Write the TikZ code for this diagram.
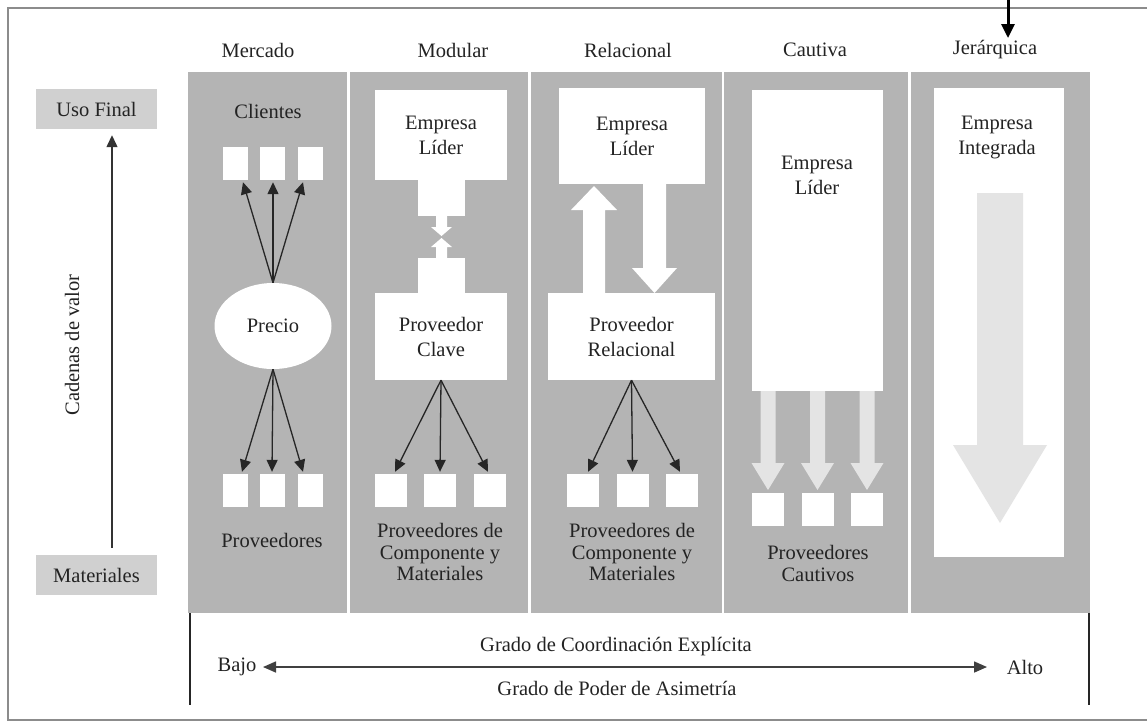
\documentclass[tikz,border=0pt]{standalone}
\usepackage{fontspec}
\setmainfont{Liberation Serif}
\usetikzlibrary{arrows.meta,shapes.geometric,calc}
\definecolor{colgray}{RGB}{180,180,180}
\definecolor{boxgray}{RGB}{208,208,208}
\definecolor{lightarr}{RGB}{228,228,228}
\definecolor{txt}{RGB}{35,35,35}
\newcommand\lblfont{\fontsize{20.5}{25}\selectfont}
\newcommand\lblfontb{\fontsize{20.5}{21.5}\selectfont}
\begin{document}
\begin{tikzpicture}[x=1pt,y=-1pt,
  lbl/.style={text=txt,font=\lblfont,align=center,inner sep=0},
  lblb/.style={text=txt,font=\lblfontb,align=center,inner sep=0},
  wbox/.style={lbl,fill=white},
  sq/.style={fill=white,inner sep=0,minimum width=25,minimum height=33},
  sqb/.style={fill=white,inner sep=0,minimum width=32,minimum height=33},
  arr/.style={-{Triangle[length=12,width=11]},line width=1.3,draw=black!85},
  lgbox/.style={lbl,fill=boxgray,minimum width=121,minimum height=40},
  wfill/.style={fill=white},
  lfill/.style={fill=lightarr}
]
\useasboundingbox (0,0) rectangle (1147,724);
\fill[white] (0,0) rectangle (1147,724);
% outer frame (open to the right)
\draw[black!45,line width=1.2] (1147,8) -- (8,8) -- (8,720) -- (1147,720);

% gray columns area
\fill[colgray] (188,72) rectangle (1090,613);
\foreach \x in {348.5,529.5,723,909.5}
  \draw[white,line width=2.5] (\x,72) -- (\x,613);

% column titles
\node[lbl] (tmer) at (258,50) {Mercado};
\node[lbl] (tmod) at (453,50) {Modular};
\node[lbl] (trel) at (628,50) {Relacional};
\node[lbl] (tcau) at (815,50) {Cautiva};
\node[lbl] (tjer) at (995,50) {Jerárquica};

% top incoming arrow
\coordinate (topin) at (1008,0);
\coordinate (topend) at (1008,38);
\draw[line width=3,-{Triangle[length=14,width=13]}] (topin) -- (topend);

% left axis
\node[lgbox] (uso) at (96.5,109) {Uso Final};
\node[lgbox] (mat) at (96.5,575) {Materiales};
\draw[-{Triangle[length=12,width=11]},line width=1.3,draw=black!80,shorten <=7,shorten >=6] (mat.north -| 112,0) -- (uso.south -| 112,0);
\node[lbl,rotate=90] (cad) at (72,345) {Cadenas de valor};

% ---------- Mercado ----------
\node[lbl] (cli) at (268,111) {Clientes};
\node[sq] (c1) at (235,163.5) {};
\node[sq] (c2) at (272,163.5) {};
\node[sq] (c3) at (310,163.5) {};
\node[lbl,fill=white,ellipse,minimum width=117,minimum height=86] (precio) at (273,326) {Precio};
\node[sq] (p1) at (235,490.5) {};
\node[sq] (p2) at (272,490.5) {};
\node[sq] (p3) at (310,490.5) {};
\draw[arr] (precio.north) -- ([xshift=8,yshift=-2]c1.south);
\draw[arr] (precio.north) -- ([xshift=1,yshift=-2]c2.south);
\draw[arr] (precio.north) -- ([xshift=-7,yshift=-2]c3.south);
\draw[arr] (precio.south) -- ([xshift=7,yshift=2]p1.north);
\draw[arr] (precio.south) -- ([xshift=0,yshift=2]p2.north);
\draw[arr] (precio.south) -- ([xshift=-7,yshift=2]p3.north);
\node[lbl] (prov) at (272,540) {Proveedores};

% ---------- Modular ----------
\node[wbox,minimum width=132,minimum height=90] (modlid) at (441,135) {Empresa\\Líder};
\node[wbox,minimum width=132,minimum height=87] (modprov) at (441,336.5) {Proveedor\\Clave};
\fill[wfill] (418,180) rectangle (465,215.5);
\fill[wfill] (436,215) -- (447,215) -- (447,227) -- (452,227) -- (441.5,236) -- (431,227) -- (436,227) -- cycle;
\fill[wfill] (441.5,238) -- (452,247) -- (447,247) -- (447,258.5) -- (436,258.5) -- (436,247) -- (431,247) -- cycle;
\fill[wfill] (418,258) rectangle (465,293.5);
\node[sqb] (m1) at (391,490.5) {};
\node[sqb] (m2) at (440,490.5) {};
\node[sqb] (m3) at (490,490.5) {};
\draw[arr] (modprov.south) -- ([xshift=4,yshift=2]m1.north);
\draw[arr] (modprov.south) -- ([xshift=0,yshift=2]m2.north);
\draw[arr] (modprov.south) -- ([xshift=-2,yshift=2]m3.north);
\node[lblb] (modtxt) at (440,552) {Proveedores de\\Componente y\\Materiales};

% ---------- Relacional ----------
\node[wbox,minimum width=146,minimum height=96] (rellid) at (632,136) {Empresa\\Líder};
\node[wbox,minimum width=167,minimum height=87] (relprov) at (631.5,336.5) {Proveedor\\Relacional};
\fill[wfill] (583,293.5) -- (605,293.5) -- (605,210) -- (617,210) -- (594,186) -- (571,210) -- (583,210) -- cycle;
\fill[wfill] (643,183.5) -- (666,183.5) -- (666,268) -- (677,268) -- (654.5,293) -- (632,268) -- (643,268) -- cycle;
\node[sqb] (r1) at (583,490.5) {};
\node[sqb] (r2) at (632.5,490.5) {};
\node[sqb] (r3) at (682,490.5) {};
\draw[arr] (relprov.south) -- ([xshift=5,yshift=2]r1.north);
\draw[arr] (relprov.south) -- ([xshift=0,yshift=2]r2.north);
\draw[arr] (relprov.south) -- ([xshift=-2,yshift=2]r3.north);
\node[lblb] (reltxt) at (632,552) {Proveedores de\\Componente y\\Materiales};

% ---------- Cautiva ----------
\node[fill=white,inner sep=0,minimum width=131,minimum height=301] (caulid) at (817.5,240.5) {};
\node[lbl] (caulbl) at (817,175.5) {Empresa\\Líder};
\foreach \cx in {768,817.5,867}{
  \fill[lfill] (\cx-7.5,391) -- (\cx+7.5,391) -- (\cx+7.5,463) -- (\cx+16.5,463) -- (\cx,490) -- (\cx-16.5,463) -- (\cx-7.5,463) -- cycle;
}
\node[sqb] (k1) at (768,509) {};
\node[sqb] (k2) at (817.5,509) {};
\node[sqb] (k3) at (867,509) {};
\node[lblb] (cautxt) at (818,563.5) {Proveedores\\Cautivos};

% ---------- Jerarquica ----------
\node[fill=white,inner sep=0,minimum width=130,minimum height=469] (jerbox) at (999,322.5) {};
\node[lbl] (jerlbl) at (997,137) {Empresa\\Integrada};
\fill[lfill] (977,193) -- (1023,193) -- (1023,445) -- (1047,445) -- (1000,523) -- (953,445) -- (977,445) -- cycle;

% ---------- bottom axis ----------
\draw[black!85,line width=1.8] (190,613) -- (190,705);
\draw[black!85,line width=1.8] (1089,613) -- (1089,705);
\node[lbl] (bajo) at (237,667) {Bajo};
\node[lbl] (alto) at (1025,667) {Alto};
\coordinate (axL) at (263,667);
\coordinate (axR) at (987,667);
\draw[{Triangle[length=13,width=11]}-{Triangle[length=13,width=11]},line width=1.6,draw=black!75] (axL) -- (axR);
\node[lbl] (coord) at (616,647) {Grado de Coordinación Explícita};
\node[lbl] (poder) at (617,688) {Grado de Poder de Asimetría};
\end{tikzpicture}
\end{document}
